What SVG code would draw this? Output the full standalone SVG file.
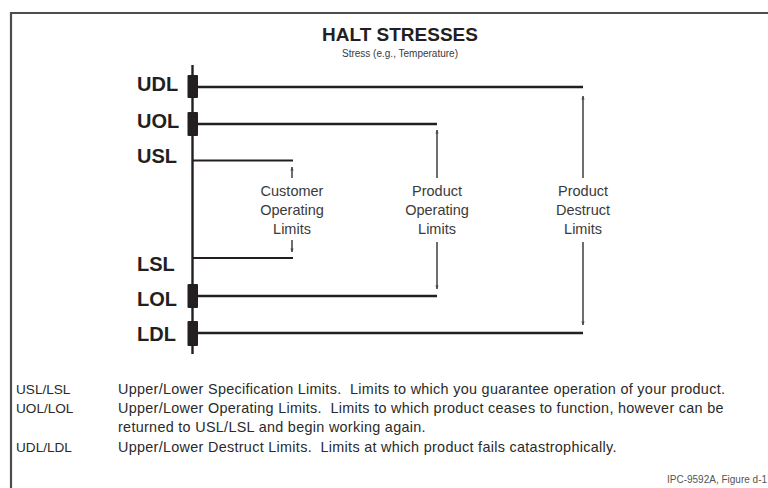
<svg xmlns="http://www.w3.org/2000/svg" width="768" height="488" viewBox="0 0 768 488">
<style>
.lbl{font-family:"Liberation Sans",Arial,sans-serif;font-weight:bold;font-size:20px;fill:#231f20}
.mid{font-family:"Liberation Sans",Arial,sans-serif;font-size:14.5px;fill:#3a3a3a;text-anchor:middle}
.key{font-family:"Liberation Sans",Arial,sans-serif;font-size:13.6px;fill:#2a2a2a}
.leg{font-family:"Liberation Sans",Arial,sans-serif;font-size:14.4px;letter-spacing:0.3px;fill:#2a2a2a;white-space:pre}
.lim{stroke:#231f20;stroke-width:2.5;fill:none}
.spec{stroke:#231f20;stroke-width:2;fill:none}
.arr{stroke:#4a4a4a;stroke-width:1.6;fill:none}
.blk{fill:#231f20}
</style>
<defs>
<marker id="ah" viewBox="0 0 10 10" refX="9" refY="5" markerWidth="4" markerHeight="4" orient="auto" markerUnits="userSpaceOnUse">
<path d="M0,1 L10,5 L0,9 z" fill="#4a4a4a"/>
</marker>
</defs>
<rect width="768" height="488" fill="#ffffff"/>
<g id="frame">
<path d="M11,488 V13 H768" stroke="#4d4d4d" stroke-width="2.2" fill="none"/>
</g>
<g id="title">
<text x="400" y="41" text-anchor="middle" font-family="'Liberation Sans',Arial,sans-serif" font-weight="bold" font-size="19px" fill="#231f20">HALT STRESSES</text>
<text x="400" y="57" text-anchor="middle" font-family="'Liberation Sans',Arial,sans-serif" font-size="10px" fill="#3a3a3a">Stress (e.g., Temperature)</text>
</g>
<g id="axis">
<line x1="192.5" y1="65" x2="192.5" y2="354" stroke="#231f20" stroke-width="2.4"/>
<rect class="blk" x="187.5" y="75" width="10.5" height="23" rx="1"/>
<rect class="blk" x="187.5" y="112" width="10.5" height="24" rx="1"/>
<rect class="blk" x="187.5" y="284" width="10.5" height="24" rx="1"/>
<rect class="blk" x="187.5" y="321" width="10.5" height="25" rx="1"/>
</g>
<g id="limit-labels">
<text class="lbl" x="137" y="91">UDL</text>
<text class="lbl" x="137" y="128">UOL</text>
<text class="lbl" x="137" y="163">USL</text>
<text class="lbl" x="137" y="271">LSL</text>
<text class="lbl" x="137" y="306">LOL</text>
<text class="lbl" x="137" y="341">LDL</text>
</g>
<g id="connectors">
<line class="lim" x1="198" y1="87" x2="583" y2="87"/>
<line class="lim" x1="198" y1="124" x2="437" y2="124"/>
<line class="spec" x1="193" y1="160.5" x2="293" y2="160.5"/>
<line class="spec" x1="193" y1="258" x2="293" y2="258"/>
<line class="lim" x1="198" y1="296" x2="437" y2="296"/>
<line class="lim" x1="198" y1="333" x2="583" y2="333"/>
<line class="arr" x1="292" y1="178" x2="292" y2="167" marker-end="url(#ah)"/>
<line class="arr" x1="292" y1="240" x2="292" y2="252" marker-end="url(#ah)"/>
<line class="arr" x1="437" y1="178" x2="437" y2="130" marker-end="url(#ah)"/>
<line class="arr" x1="437" y1="242" x2="437" y2="289" marker-end="url(#ah)"/>
<line class="arr" x1="583" y1="178" x2="583" y2="96" marker-end="url(#ah)"/>
<line class="arr" x1="583" y1="242" x2="583" y2="325" marker-end="url(#ah)"/>
</g>
<g id="customer-operating-limits">
<text class="mid" x="292" y="196">Customer</text>
<text class="mid" x="292" y="215">Operating</text>
<text class="mid" x="292" y="234">Limits</text>
</g>
<g id="product-operating-limits">
<text class="mid" x="437" y="196">Product</text>
<text class="mid" x="437" y="215">Operating</text>
<text class="mid" x="437" y="234">Limits</text>
</g>
<g id="product-destruct-limits">
<text class="mid" x="583" y="196">Product</text>
<text class="mid" x="583" y="215">Destruct</text>
<text class="mid" x="583" y="234">Limits</text>
</g>
<g id="legend">
<text class="key" x="16" y="394">USL/LSL</text>
<text class="leg" x="118" y="394" xml:space="preserve">Upper/Lower Specification Limits.  Limits to which you guarantee operation of your product.</text>
<text class="key" x="16" y="413">UOL/LOL</text>
<text class="leg" x="118" y="413" xml:space="preserve">Upper/Lower Operating Limits.  Limits to which product ceases to function, however can be</text>
<text class="leg" x="118" y="432">returned to USL/LSL and begin working again.</text>
<text class="key" x="16" y="452">UDL/LDL</text>
<text class="leg" x="118" y="452" xml:space="preserve">Upper/Lower Destruct Limits.  Limits at which product fails catastrophically.</text>
</g>
<g id="caption">
<text x="667" y="483" font-family="'Liberation Sans',Arial,sans-serif" font-size="10px" fill="#555">IPC-9592A, Figure d-1</text>
</g>
</svg>
